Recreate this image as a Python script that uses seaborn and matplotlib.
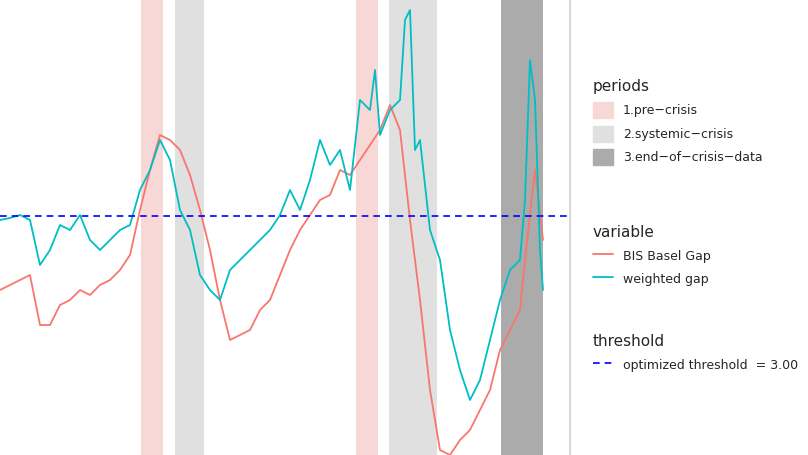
import numpy as np
import pandas as pd
import matplotlib
matplotlib.use("Agg")
import matplotlib.pyplot as plt
import seaborn as sns
from matplotlib.patches import Patch
from matplotlib.lines import Line2D

# time index (quarters)
t_bis = [0, 10, 20, 30, 40, 50, 60, 70, 80, 90, 100, 110, 120, 130, 140, 150, 160, 170,
         180, 190, 200, 210, 220, 230, 240, 250, 260, 270, 280, 290, 300, 310, 320, 330,
         340, 350, 360, 370, 380, 390, 400, 410, 420, 430, 440, 450, 460, 470, 480, 490,
         500, 510, 520, 525, 535, 543]
bis_gap = [-0.7, -0.45, -0.2, 0.05, -2.45, -2.45, -1.45, -1.2, -0.7, -0.95, -0.45, -0.2,
           0.3, 1.05, 3.3, 5.3, 7.05, 6.8, 6.3, 5.05, 3.3, 1.3, -1.2, -3.2, -2.95, -2.7,
           -1.7, -1.2, 0.05, 1.3, 2.3, 3.05, 3.8, 4.05, 5.3, 5.05, 5.8, 6.55, 7.3, 8.55,
           7.3, 2.8, -1.2, -5.7, -8.7, -8.95, -8.2, -7.7, -6.7, -5.7, -3.7, -2.7, -1.7,
           0.8, 5.3, 1.8]

t_w = [0, 10, 20, 30, 40, 50, 60, 70, 80, 90, 100, 110, 120, 130, 140, 150, 160, 170,
       180, 190, 200, 210, 220, 230, 240, 250, 260, 270, 280, 290, 300, 310, 320, 330,
       340, 350, 360, 370, 375, 380, 390, 400, 405, 410, 415, 420, 430, 440, 450, 460,
       470, 480, 490, 500, 510, 520, 525, 530, 535, 540, 543]
weighted_gap = [2.8, 2.9, 3.05, 2.8, 0.55, 1.3, 2.55, 2.3, 3.05, 1.8, 1.3, 1.8, 2.3, 2.55,
                4.3, 5.3, 6.8, 5.8, 3.3, 2.3, 0.05, -0.7, -1.2, 0.3, 0.8, 1.3, 1.8, 2.3,
                3.05, 4.3, 3.3, 4.8, 6.8, 5.55, 6.3, 4.3, 8.8, 8.3, 10.3, 7.05, 8.3, 8.8,
                12.8, 13.3, 6.3, 6.8, 2.3, 0.8, -2.7, -4.7, -6.2, -5.2, -3.2, -1.2, 0.3,
                0.8, 3.8, 10.8, 8.8, 1.3, -0.7]

threshold = 3.0
pre_crisis = [(141, 163), (356, 378)]
systemic = [(175, 204), (389, 437)]
end_of_crisis = [(501, 543)]

red, teal = "#F8766D", "#00BFC4"

df = pd.concat([
    pd.DataFrame({"t": t_bis, "value": bis_gap, "variable": "BIS Basel Gap"}),
    pd.DataFrame({"t": t_w, "value": weighted_gap, "variable": "weighted gap"}),
])

sns.set_style("white")
fig = plt.figure(figsize=(8.08, 4.55), dpi=100)
ax = fig.add_axes([0, 0, 570 / 808, 1])

for a, b in pre_crisis:
    ax.axvspan(a, b, color="#F8D7D7", lw=0)
for a, b in systemic:
    ax.axvspan(a, b, color="#E0E0E0", lw=0)
for a, b in end_of_crisis:
    ax.axvspan(a, b, color="#ABABAB", lw=0)

sns.lineplot(data=df, x="t", y="value", hue="variable", palette=[red, teal],
             lw=1.3, ax=ax, legend=False)
ax.axhline(threshold, color="#0000FF", ls=(0, (4, 3)), lw=1.2)

ax.set_xlim(0, 570)
ax.set_ylim(3 - (455 - 216) / 20, 3 + 216 / 20)
ax.axis("off")
fig.add_artist(Line2D([570 / 808, 570 / 808], [0, 1], color="#D0D0D0", lw=1.2))

kw = dict(frameon=False, alignment="left", fontsize=9, title_fontsize=11,
          handlelength=1.6, handleheight=1.6, labelspacing=0.6)
l1 = fig.legend(handles=[Patch(color="#F8D7D7", label="1.pre\u2212crisis"),
                         Patch(color="#E0E0E0", label="2.systemic\u2212crisis"),
                         Patch(color="#ABABAB", label="3.end\u2212of\u2212crisis\u2212data")],
                title="periods", loc="upper left", bbox_to_anchor=(0.72, 0.85), **kw)
l2 = fig.legend(handles=[Line2D([], [], color=red, lw=1.3, label="BIS Basel Gap"),
                         Line2D([], [], color=teal, lw=1.3, label="weighted gap")],
                title="variable", loc="upper left", bbox_to_anchor=(0.72, 0.53), **kw)
l3 = fig.legend(handles=[Line2D([], [], color="#0000FF", ls=(0, (4, 3)), lw=1.2,
                                label="optimized threshold  = 3.00")],
                title="threshold", loc="upper left", bbox_to_anchor=(0.72, 0.29), **kw)

fig.savefig("out.png", dpi=100)
